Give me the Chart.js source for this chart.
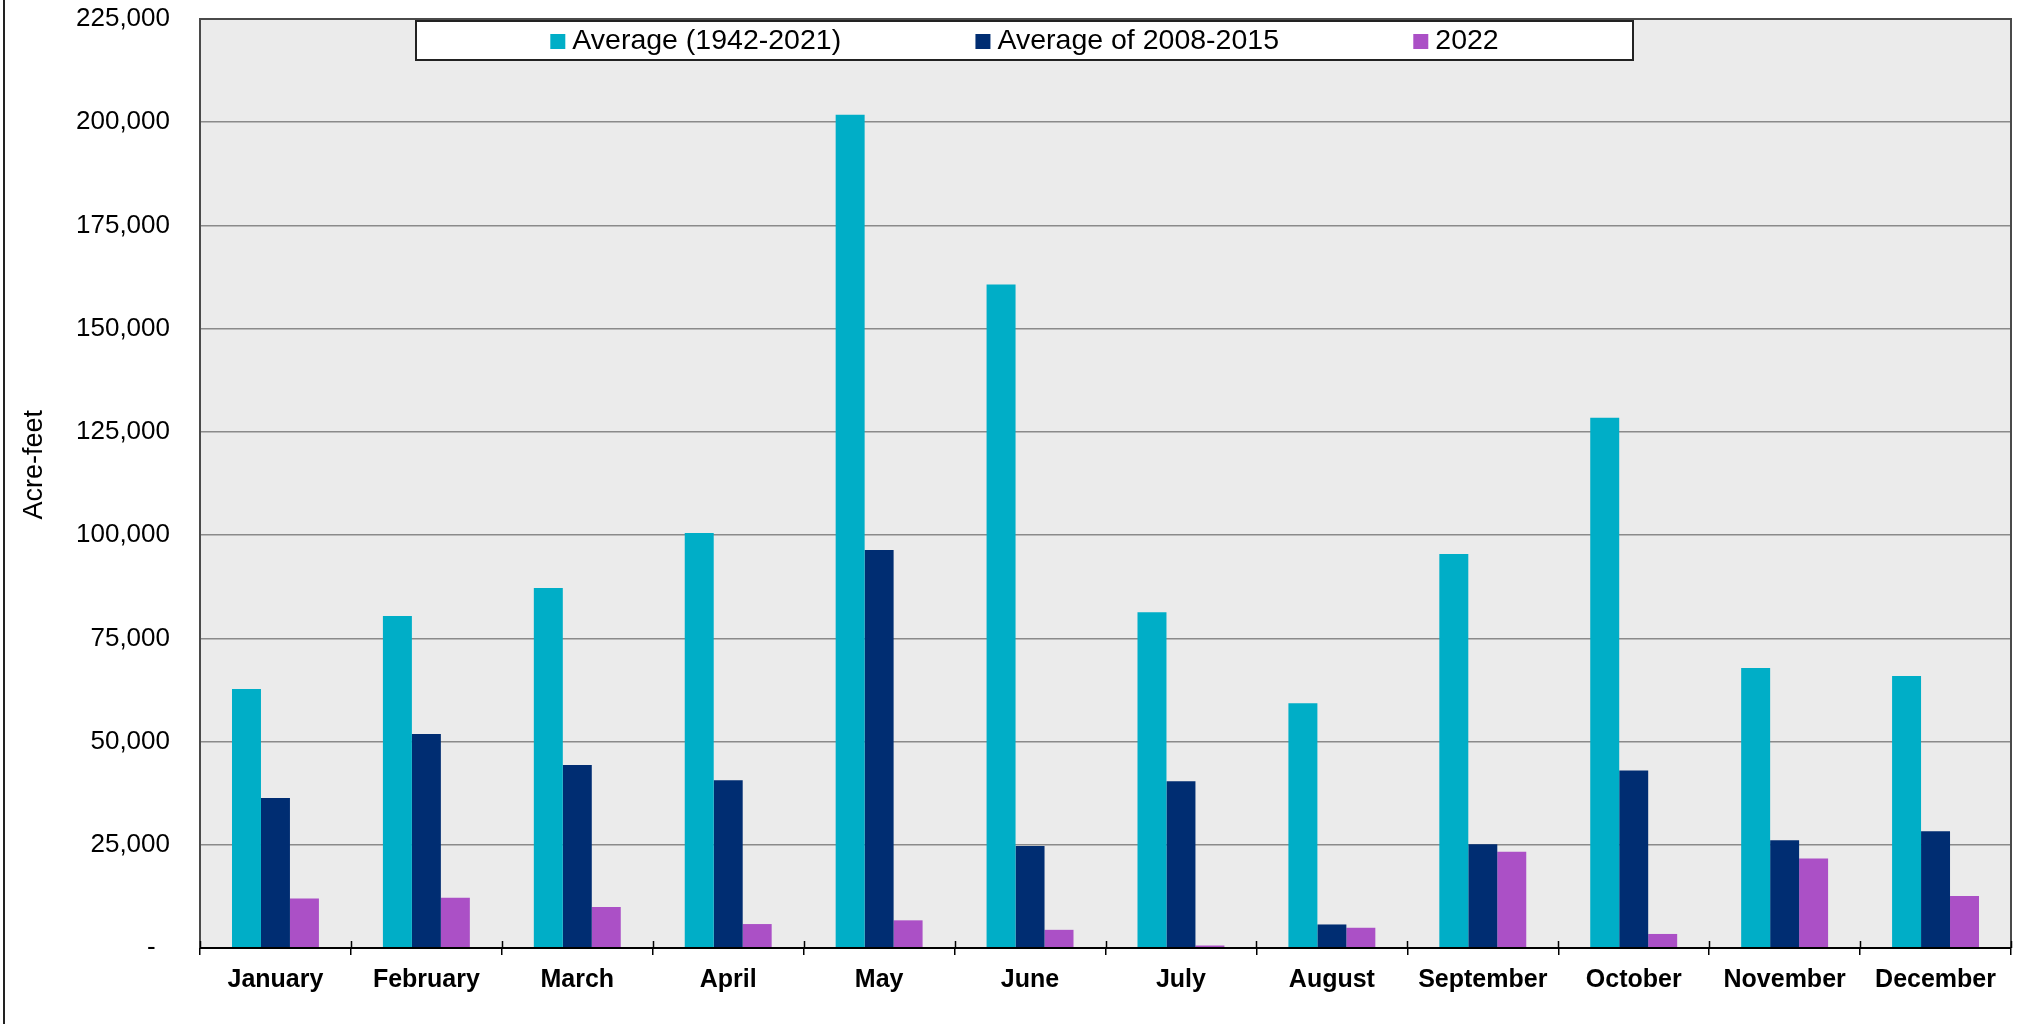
<!DOCTYPE html>
<html>
<head>
<meta charset="utf-8">
<script src="https://cdn.jsdelivr.net/npm/chart.js@4.4.1/dist/chart.umd.min.js"></script>
<style>
    html, body { margin: 0; padding: 0; background: #fff; }
    #wrap { position: relative; width: 2018px; height: 1024px; }
</style>
</head>
<body>
<div id="wrap"><canvas id="flowChart" width="2018" height="1024"></canvas></div>
<script>
// Monthly values, acre-feet
const months = ['January', 'February', 'March', 'April', 'May', 'June',
    'July', 'August', 'September', 'October', 'November', 'December'];
const avgLongTerm = [62700, 80400, 87200, 100500, 201800, 160700, 81300, 59300, 95400, 128400, 67800, 65900];
const avgDrought = [36300, 51800, 44300, 40600, 96400, 24700, 40400, 5700, 25100, 43000, 26100, 28300];
const year2022 = [12000, 12200, 9900, 5800, 6700, 4400, 600, 4900, 23300, 3400, 21700, 12600];
const seriesLabels = ['Average (1942-2021)', 'Average of 2008-2015', '2022'];
const yTicks = [0, 25000, 50000, 75000, 100000, 125000, 150000, 175000, 200000, 225000];

const FONT = "'Liberation Sans', Arial, sans-serif";
const colors = ['#00AEC7', '#002D72', '#AB50C6'];

// plot background, frame, and the boxed legend sitting inside the plot
const framePlugin = {
    id: 'frame',
    beforeDraw(chart) {
        const { ctx, chartArea: a } = chart;
        ctx.save();
        ctx.fillStyle = '#EBEBEB';
        ctx.fillRect(a.left, a.top, a.right - a.left, a.bottom - a.top);
        // outer left rule of the figure
        ctx.strokeStyle = '#222';
        ctx.lineWidth = 2;
        ctx.beginPath();
        ctx.moveTo(4, 0);
        ctx.lineTo(4, chart.height);
        ctx.stroke();
        ctx.restore();
    },
    afterDatasetsDraw(chart) {
        const { ctx, chartArea: a } = chart;
        ctx.save();
        ctx.strokeStyle = '#4a4a4a';
        ctx.lineWidth = 2;
        ctx.beginPath();
        ctx.moveTo(a.left, a.bottom);
        ctx.lineTo(a.left, a.top);
        ctx.lineTo(a.right, a.top);
        ctx.lineTo(a.right, a.bottom);
        ctx.stroke();
        ctx.strokeStyle = '#000';
        ctx.beginPath();
        ctx.moveTo(a.left, a.bottom);
        ctx.lineTo(a.right, a.bottom);
        ctx.stroke();
        // small tick crossings above the axis at category edges
        ctx.lineWidth = 1.5;
        for (let i = 0; i <= months.length; i++) {
            const x = Math.round(a.left + (a.right - a.left) * i / months.length) + 0.5;
            ctx.beginPath();
            ctx.moveTo(x, a.bottom - 7);
            ctx.lineTo(x, a.bottom);
            ctx.stroke();
        }
        ctx.restore();
    },
    afterDraw(chart) {
        const { ctx } = chart;
        const box = { x: 416, y: 21, w: 1217, h: 39 };
        ctx.save();
        ctx.fillStyle = '#fff';
        ctx.fillRect(box.x, box.y, box.w, box.h);
        ctx.strokeStyle = '#222';
        ctx.lineWidth = 2;
        ctx.strokeRect(box.x, box.y, box.w, box.h);

        ctx.font = '28.5px ' + FONT;
        ctx.textBaseline = 'middle';
        const sq = 15, gapText = 7;
        const items = chart.data.datasets.map(ds => ({
            label: ds.label,
            color: ds.backgroundColor,
            w: sq + gapText + ctx.measureText(ds.label).width
        }));
        const total = items.reduce((s, it) => s + it.w, 0);
        const gap = (box.w - total) / (items.length + 1);
        let x = box.x + gap;
        const cy = box.y + box.h / 2;
        items.forEach(it => {
            ctx.fillStyle = it.color;
            ctx.fillRect(x, cy - sq / 2 + 1, sq, sq);
            ctx.fillStyle = '#000';
            ctx.fillText(it.label, x + sq + gapText, cy + 1);
            x += it.w + gap;
        });
        ctx.restore();
    }
};

const ctx = document.getElementById('flowChart').getContext('2d');
new Chart(ctx, {
    type: 'bar',
    data: {
        labels: months,
        datasets: [avgLongTerm, avgDrought, year2022].map((values, i) => ({
            label: seriesLabels[i],
            data: values,
            backgroundColor: colors[i],
            borderWidth: 0,
            categoryPercentage: 0.576,
            barPercentage: 1.0
        }))
    },
    options: {
        responsive: false,
        animation: false,
        devicePixelRatio: 1,
        layout: { padding: { left: 0, top: 19, right: 7, bottom: 0 } },
        plugins: {
            legend: { display: false },
            tooltip: { enabled: false }
        },
        scales: {
            x: {
                afterFit: (scale) => {
                    scale.height = 76;
                    scale.paddingLeft = 0;
                    scale.paddingRight = 0;
                },
                grid: {
                    display: true,
                    offset: true,
                    drawOnChartArea: false,
                    drawTicks: true,
                    tickLength: 7,
                    color: '#000',
                    lineWidth: 1.5
                },
                border: { display: false },
                ticks: {
                    color: '#000',
                    padding: 10,
                    maxRotation: 0,
                    autoSkip: false,
                    font: { family: FONT, size: 25, weight: 'bold' }
                }
            },
            y: {
                min: 0,
                max: 225000,
                afterFit: (scale) => {
                    scale.width = 200;
                    scale.paddingTop = 0;
                    scale.paddingBottom = 0;
                },
                afterBuildTicks: (scale) => { scale.ticks = yTicks.map(v => ({ value: v })); },
                grid: {
                    color: '#8a8a8a',
                    lineWidth: 1.5,
                    drawTicks: false
                },
                border: { display: false },
                ticks: {
                    color: '#000',
                    padding: 30,
                    font: { family: FONT, size: 26 },
                    callback: (v) => v === 0 ? '-  ' : v.toLocaleString('en-US')
                },
                title: {
                    display: true,
                    text: '     Acre-feet',
                    color: '#000',
                    font: { family: FONT, size: 27 },
                    padding: { top: 18, bottom: 0 }
                }
            }
        }
    },
    plugins: [framePlugin]
});
</script>
</body>
</html>
